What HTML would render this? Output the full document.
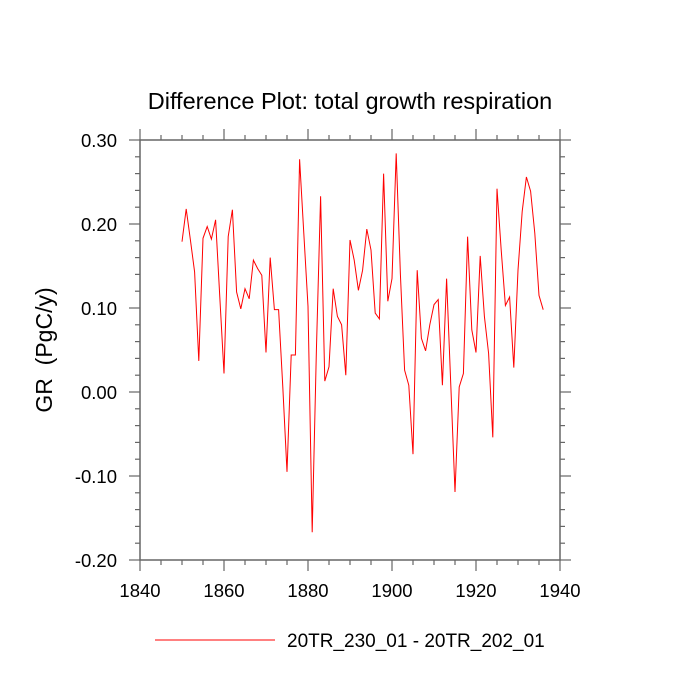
<!DOCTYPE html>
<html><head><meta charset="utf-8"><style>
html,body{margin:0;padding:0;background:#fff;}
svg{display:block;font-family:"Liberation Sans",Arial,sans-serif;}
</style></head><body>
<svg id="chart" width="700" height="700">
<text x="350" y="109" text-anchor="middle" font-size="23.5">Difference Plot: total growth respiration</text>
<text transform="translate(52,350) rotate(-90)" text-anchor="middle" font-size="23" xml:space="preserve">GR  (PgC/y)</text>
<g id="axes"></g>
<g id="series"></g>
<line x1="155" y1="640" x2="275" y2="640" stroke="#f00" stroke-width="1"/>
<text x="287" y="647" font-size="19">20TR_230_01 - 20TR_202_01</text>
</svg>
<script>
const startYear = 1850;
const values = [0.179,0.218,0.181,0.143,0.037,0.183,0.197,0.182,0.205,0.113,0.022,0.185,0.217,0.119,0.099,0.123,0.111,0.157,0.147,0.139,0.047,0.160,0.098,0.098,0.006,-0.095,0.044,0.044,0.277,0.189,0.102,-0.167,0.05,0.233,0.013,0.030,0.123,0.090,0.080,0.020,0.181,0.157,0.121,0.145,0.194,0.169,0.094,0.087,0.260,0.108,0.135,0.284,0.14,0.026,0.008,-0.074,0.145,0.064,0.049,0.080,0.104,0.110,0.008,0.135,0.008,-0.119,0.006,0.022,0.185,0.074,0.047,0.162,0.090,0.046,-0.054,0.242,0.169,0.103,0.113,0.029,0.145,0.215,0.256,0.239,0.189,0.115,0.098];
const xTicks = [1840,1860,1880,1900,1920,1940];
const yTicks = [-0.20,-0.10,0.00,0.10,0.20,0.30];
const X0=140,X1=560,Y0=140,Y1=560,xMin=1840,xMax=1940,yMin=-0.2,yMax=0.3;
const sx=v=>X0+(v-xMin)/(xMax-xMin)*(X1-X0);
const sy=v=>Y1-(v-yMin)/(yMax-yMin)*(Y1-Y0);
const NS='http://www.w3.org/2000/svg';
const axes=document.getElementById('axes');
function mk(tag,attrs,parent){const e=document.createElementNS(NS,tag);for(const k in attrs)e.setAttribute(k,attrs[k]);parent.appendChild(e);return e;}
const col='#666';
const frame=mk('rect',{x:X0,y:Y0,width:X1-X0,height:Y1-Y0,fill:'none',stroke:col,'stroke-width':1.5},axes);


for(let yr=xMin;yr<=xMax;yr+=5){const x=sx(yr);const maj=(yr%20===0);const L=maj?11:5;
 mk('line',{x1:x,y1:Y1,x2:x,y2:Y1+L,stroke:col,'stroke-width':1.2},axes);
 mk('line',{x1:x,y1:Y0,x2:x,y2:Y0-L,stroke:col,'stroke-width':1.2},axes);}
for(let i=0;i<=25;i++){const v=yMin+i*0.02;const y=sy(v);const maj=(i%5===0);const L=maj?11:5;
 mk('line',{x1:X0,y1:y,x2:X0-L,y2:y,stroke:col,'stroke-width':1.2},axes);
 mk('line',{x1:X1,y1:y,x2:X1+L,y2:y,stroke:col,'stroke-width':1.2},axes);}
xTicks.forEach(t=>{const e=mk('text',{x:sx(t),y:Y1+37,'text-anchor':'middle','font-size':18.5},axes);e.textContent=t;
 
 });
yTicks.forEach(t=>{const e=mk('text',{x:X0-23,y:sy(t)+7,'text-anchor':'end','font-size':18.5},axes);e.textContent=t.toFixed(2);
 
 });
const pts=values.map((v,i)=>sx(startYear+i).toFixed(2)+','+sy(v).toFixed(2)).join(' ');
const line=mk('polyline',{points:pts,fill:'none',stroke:'#f00','stroke-width':1},document.getElementById('series'));


</script>
</body></html>
